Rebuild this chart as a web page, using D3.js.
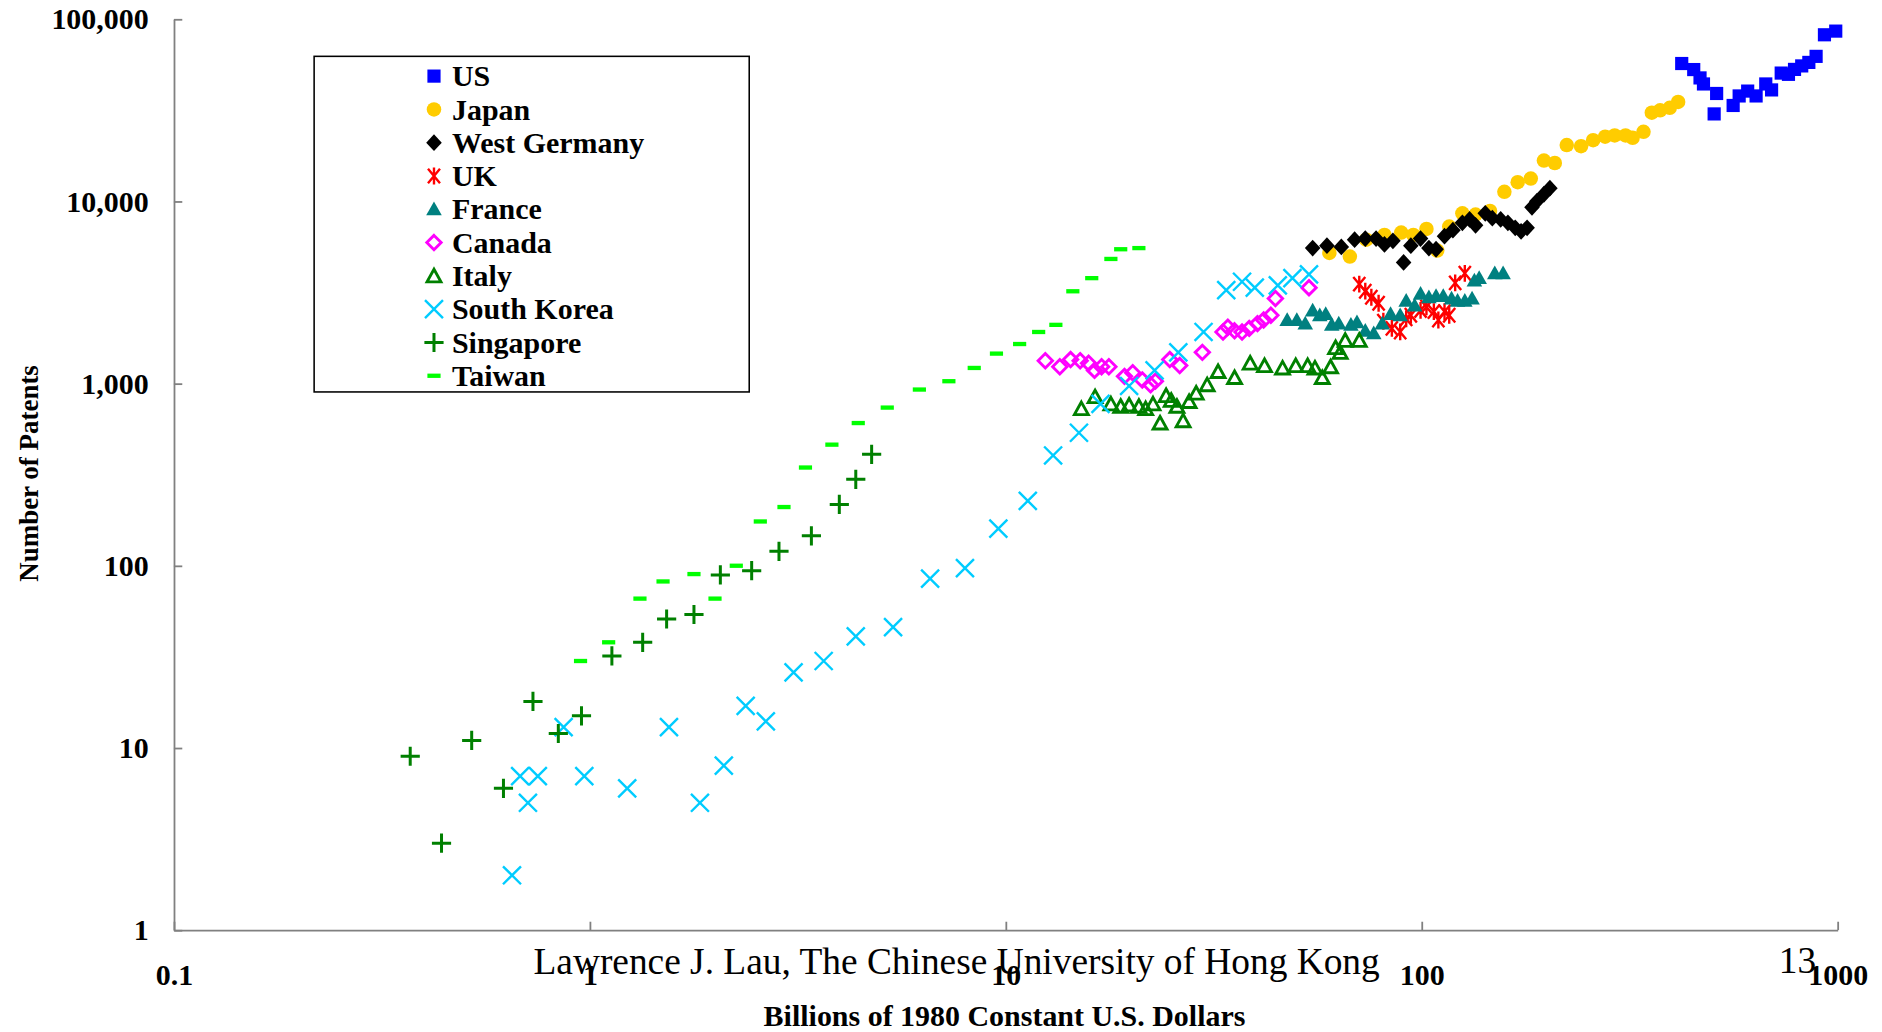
<!DOCTYPE html>
<html>
<head>
<meta charset="utf-8">
<script src="https://cdn.jsdelivr.net/npm/d3@7.9.0/dist/d3.min.js"></script>
<style>
  html, body { margin: 0; padding: 0; background: #fff; }
  svg { display: block; }
  text { font-family: "Liberation Serif", "Times New Roman", serif; }
</style>
</head>
<body>
<svg id="chart"></svg>
<script>
// axis ticks
const xTicks = [0.1, 1, 10, 100, 1000];
const yTicks = [1, 10, 100, 1000, 10000, 100000];

// [billions of 1980 US$, number of patents]
const usData = [[422, 57100], [451, 52900], [467, 47600], [476, 44100], [512, 39100], [505, 30200],
  [561, 33600], [580, 37900], [608, 40300], [637, 37900], [672, 44100], [694, 40900], [732, 50600],
  [762, 49800], [788, 53000], [820, 55400], [853, 57900], [888, 62500], [930, 82100], [990, 86000]];
const japanData = [[60.0, 5210], [67.2, 4980], [73.6, 6160], [81.4, 6540], [89.3, 6740], [95.5, 6540],
  [102.7, 7060], [109.0, 5370], [116.5, 7270], [125.3, 8600], [134.8, 8470], [146.0, 8860],
  [158.1, 11290], [170.2, 12740], [183.0, 13340], [196.8, 16740], [209.0, 16240], [223.3, 20380],
  [241.7, 20090], [258.4, 21660], [276.2, 22650], [291.2, 23010], [309.2, 23010], [321.6, 22320],
  [341.5, 24080], [357.6, 30690], [374.5, 31620], [395.0, 32600], [413.7, 35160]];
const germanyData = [[54.7, 5540], [59.2, 5710], [64.1, 5620], [69.0, 6160], [73.2, 6250], [77.7, 6250],
  [81.4, 5800], [85.3, 6070], [90.5, 4620], [94.2, 5710], [99.4, 6250], [104.1, 5540], [108.3, 5460],
  [113.5, 6440], [118.9, 6950], [125.3, 7620], [130.4, 7960], [134.8, 7390], [142.2, 8600],
  [147.9, 8090], [154.9, 7960], [161.2, 7620], [167.9, 7160], [173.4, 6850], [179.3, 7160],
  [184.2, 9270], [189.2, 10000], [196.8, 10940], [203.4, 11810]];
const ukData = [[70.8, 3515], [73.2, 3212], [75.7, 2976], [78.8, 2759], [80.9, 2198], [84.8, 2008],
  [88.8, 1919], [91.8, 2265], [94.2, 2371], [99.4, 2520], [102.7, 2636], [107.0, 2482], [109.7, 2233],
  [113.5, 2482], [116.5, 2371], [120.4, 3570], [127.0, 4030]];
const franceData = [[47.5, 2233], [50.1, 2233], [52.5, 2133], [54.7, 2520], [56.9, 2371], [58.8, 2408],
  [60.8, 2100], [63.2, 2133], [67.6, 2100], [69.9, 2167], [73.2, 1947], [76.7, 1889], [80.4, 2133],
  [84.2, 2408], [88.8, 2371], [91.8, 2843], [96.2, 2678], [99.4, 3113], [104.1, 2976], [108.3, 3020],
  [112.7, 3020], [118.0, 2931], [122.0, 2843], [127.0, 2843], [132.2, 2931], [133.9, 3680],
  [137.5, 3792], [149.9, 4030], [157.0, 4030]];
const canadaData = [[12.45, 1334], [13.49, 1236], [14.32, 1354], [15.1, 1334], [15.82, 1294],
  [16.35, 1181], [17.0, 1236], [17.7, 1236], [19.3, 1095], [20.2, 1146], [21.3, 1047], [22.3, 985],
  [22.9, 1031], [24.8, 1354], [26.2, 1255], [29.7, 1483], [33.3, 1919], [34.2, 2038], [35.5, 1947],
  [37.0, 1919], [38.5, 2008], [40.3, 2133], [41.7, 2233], [43.4, 2371], [44.5, 2931], [53.6, 3360]];
const italyData = [[15.2, 728], [16.4, 847], [17.9, 773], [18.9, 750], [19.8, 762], [20.9, 750],
  [21.7, 728], [22.6, 773], [23.5, 607], [24.3, 859], [25.0, 809], [25.8, 750], [26.7, 625],
  [27.6, 797], [28.7, 886], [30.5, 985], [32.4, 1164], [35.5, 1079], [38.7, 1294], [41.9, 1255],
  [46.3, 1218], [49.8, 1255], [53.2, 1255], [55.4, 1218], [57.7, 1079], [60.4, 1236], [62.1, 1575],
  [63.7, 1483], [65.5, 1726], [70.8, 1726]];
const koreaData = [[0.65, 2], [0.68, 7], [0.71, 5], [0.75, 7], [0.865, 13], [0.97, 7], [1.23, 6],
  [1.55, 13], [1.84, 5], [2.1, 8], [2.37, 17], [2.65, 14], [3.09, 26], [3.65, 30], [4.36, 41],
  [5.36, 46], [6.58, 85], [7.98, 97], [9.6, 160], [11.3, 227], [13.0, 403], [15.0, 537], [16.9, 773],
  [19.8, 970], [22.8, 1180], [26.0, 1483], [29.9, 1919], [33.9, 3260], [37.0, 3620], [39.7, 3360],
  [45.1, 3460], [48.9, 3790], [53.6, 3970]];
const singaporeData = [[0.37, 9], [0.44, 3], [0.52, 11], [0.62, 6], [0.73, 18], [0.84, 12],
  [0.955, 15], [1.13, 32], [1.34, 38], [1.53, 51], [1.78, 54], [2.06, 89], [2.45, 94], [2.85, 120],
  [3.41, 146], [3.98, 217], [4.36, 298], [4.76, 409]];
const taiwanData = [[0.95, 30], [1.11, 38], [1.32, 66], [1.5, 82], [1.78, 90], [2.0, 66], [2.25, 100],
  [2.57, 175], [2.93, 210], [3.3, 346], [3.82, 462], [4.42, 607], [5.19, 738], [6.2, 927], [7.3, 1030],
  [8.4, 1218], [9.5, 1460], [10.8, 1648], [12.0, 1919], [13.2, 2100], [14.5, 3210], [16.1, 3790],
  [17.9, 4830], [18.9, 5460], [20.9, 5540]];

const seriesNames = ['US', 'Japan', 'West Germany', 'UK', 'France', 'Canada', 'Italy',
  'South Korea', 'Singapore', 'Taiwan'];
const seriesData = [usData, japanData, germanyData, ukData, franceData, canadaData, italyData,
  koreaData, singaporeData, taiwanData];

// marker style for each series (same order as seriesNames)
const markers = [
  { d: 'M-5.5,-5.5h11v11h-11z', fill: '#0000FF', stroke: 'none' },
  { d: d3.symbol(d3.symbolCircle, 115)(), fill: '#FFCC00', stroke: 'none' },
  { d: 'M0,-7L6.5,0L0,7L-6.5,0Z', fill: '#000000', stroke: 'none' },
  { d: 'M-5,-6L5,6M-5,6L5,-6M0,-7V7', fill: 'none', stroke: '#FF0000', sw: 2 },
  { d: 'M0,-6.5L6.5,5L-6.5,5Z', fill: '#008080', stroke: 'none' },
  { d: 'M0,-6L6,0L0,6L-6,0Z', fill: 'none', stroke: '#FF00FF', sw: 2.4 },
  { d: 'M0,-5.5L5.8,5L-5.8,5Z', fill: 'none', stroke: '#008000', sw: 2.4 },
  { d: 'M-7.5,-7.5L7.5,7.5M-7.5,7.5L7.5,-7.5', fill: 'none', stroke: '#00CCFF', sw: 2 },
  { d: 'M-8,0H8M0,-8V8', fill: 'none', stroke: '#008000', sw: 2.5 },
  { d: 'M-5.5,-1.8h11v3.6h-11z', fill: '#00FF00', stroke: 'none' }
];

// the drawing is laid out on a 1570 x 861 grid and scaled to the window
const W = 1570, H = 861;
const svg = d3.select('#chart')
  .attr('width', 1882)
  .attr('height', 1032)
  .attr('viewBox', `0 0 ${W} ${H}`);

const plotLeft = 145, plotRight = 1533, plotTop = 16, plotBottom = 776;

const x = d3.scaleLog().domain([0.1, 1000]).range([plotLeft, plotRight]);
const y = d3.scaleLog().domain([1, 100000]).range([plotBottom, plotTop]);

// axes
const yAxis = d3.axisLeft(y)
  .tickValues(yTicks)
  .tickFormat(d3.format(','))
  .tickSizeInner(-7)
  .tickSizeOuter(0)
  .tickPadding(21);
const xAxis = d3.axisBottom(x)
  .tickValues(xTicks)
  .tickFormat(d => String(d))
  .tickSizeInner(-7)
  .tickSizeOuter(0)
  .tickPadding(28);

const gy = svg.append('g').attr('transform', `translate(${plotLeft},0)`).call(yAxis);
const gx = svg.append('g').attr('transform', `translate(0,${plotBottom})`).call(xAxis);

[gx, gy].forEach(g => {
  g.select('.domain').attr('stroke', '#808080').attr('stroke-width', 1.5);
  g.selectAll('.tick line').attr('stroke', '#808080').attr('stroke-width', 1.5);
  g.selectAll('.tick text')
    .attr('fill', '#000')
    .attr('font-family', '"Liberation Serif", serif')
    .attr('font-weight', 'bold')
    .attr('font-size', 25);
});

// footer text that sits over the x tick labels, as in the original slide
svg.append('text')
  .attr('x', 445).attr('y', 813)
  .attr('font-size', 31.2)
  .text('Lawrence J. Lau, The Chinese University of Hong Kong');
svg.append('text')
  .attr('x', 1484).attr('y', 812)
  .attr('font-size', 31.2)
  .text('13');

// axis titles
svg.append('text')
  .attr('x', 838).attr('y', 856)
  .attr('text-anchor', 'middle')
  .attr('font-weight', 'bold')
  .attr('font-size', 25)
  .text('Billions of 1980 Constant U.S. Dollars');
svg.append('text')
  .attr('transform', 'translate(32,395) rotate(-90)')
  .attr('text-anchor', 'middle')
  .attr('font-weight', 'bold')
  .attr('font-size', 22.5)
  .text('Number of Patents');

// points, series drawn in legend order so later ones sit on top
seriesData.forEach((data, i) => {
  const m = markers[i];
  svg.append('g')
    .selectAll('path')
    .data(data)
    .join('path')
    .attr('transform', d => `translate(${x(d[0])},${y(d[1])})`)
    .attr('d', m.d)
    .attr('fill', m.fill)
    .attr('stroke', m.stroke)
    .attr('stroke-width', m.sw || 0);
});

// legend
const legend = svg.append('g');
legend.append('rect')
  .attr('x', 262).attr('y', 47)
  .attr('width', 363).attr('height', 280)
  .attr('fill', '#fff')
  .attr('stroke', '#000')
  .attr('stroke-width', 1.3);

const rowY = d3.scalePoint().domain(seriesNames).range([63.5, 313.5]);

seriesNames.forEach((name, i) => {
  const m = markers[i];
  legend.append('path')
    .attr('transform', `translate(362,${rowY(name)})`)
    .attr('d', m.d)
    .attr('fill', m.fill)
    .attr('stroke', m.stroke)
    .attr('stroke-width', m.sw || 0);
  legend.append('text')
    .attr('x', 377)
    .attr('y', rowY(name) + 8.5)
    .attr('font-weight', 'bold')
    .attr('font-size', 25)
    .text(name);
});
</script>
</body>
</html>
